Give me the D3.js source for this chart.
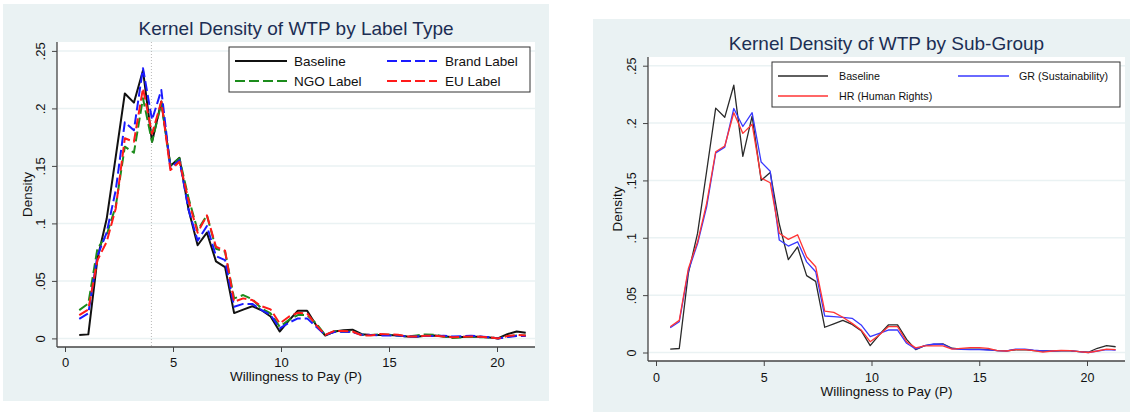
<!DOCTYPE html>
<html>
<head>
<meta charset="utf-8">
<script src="https://cdn.jsdelivr.net/npm/d3@7"></script>
<style>
  body { margin: 0; background: #fff; }
  svg { display: block; font-family: 'Liberation Sans', Arial, Helvetica, sans-serif; }
</style>
</head>
<body>
<div id="chart"></div>
<script>
// evaluation points of the kernel density (shared by all curves)
const wtpGrid = [0.66, 1.08, 1.50, 1.93, 2.35, 2.77, 3.19, 3.61, 4.03, 4.46,
  4.88, 5.30, 5.72, 6.14, 6.57, 6.99, 7.41, 7.83, 8.25, 8.67,
  9.10, 9.52, 9.94, 10.36, 10.78, 11.21, 11.63, 12.05, 12.47, 12.89,
  13.31, 13.74, 14.16, 14.58, 15.00, 15.42, 15.84, 16.27, 16.69, 17.11,
  17.53, 17.95, 18.38, 18.80, 19.22, 19.64, 20.06, 20.48, 20.91, 21.33];

const baseline = [0.003, 0.0035, 0.069, 0.104, 0.158, 0.213, 0.205, 0.233, 0.171, 0.206,
  0.150, 0.157, 0.112, 0.081, 0.092, 0.067, 0.062, 0.022, 0.025, 0.028,
  0.0245, 0.019, 0.006, 0.0155, 0.024, 0.024, 0.0115, 0.0025, 0.006, 0.007,
  0.0076, 0.0037, 0.003, 0.003, 0.003, 0.0025, 0.0016, 0.0014, 0.0024, 0.0025,
  0.0017, 0.0013, 0.0013, 0.0015, 0.0014, 0.0008, 0.0002, 0.0037, 0.006, 0.005];

const brandLabel = [0.017, 0.0217, 0.072, 0.092, 0.129, 0.188, 0.181, 0.235, 0.190, 0.216,
  0.148, 0.155, 0.112, 0.085, 0.0977, 0.0716, 0.068, 0.0275, 0.030, 0.030,
  0.0246, 0.0203, 0.0087, 0.0136, 0.0174, 0.0174, 0.0101, 0.003, 0.0055, 0.0058,
  0.0055, 0.0032, 0.003, 0.0026, 0.0026, 0.0026, 0.0017, 0.0017, 0.0023, 0.002,
  0.0023, 0.0017, 0.002, 0.0023, 0.0017, 0.001, 0.0, 0.0012, 0.002, 0.002];

const ngoLabel = [0.0246, 0.0304, 0.078, 0.090, 0.115, 0.1667, 0.1615, 0.2088, 0.171, 0.2045,
  0.1508, 0.1566, 0.122, 0.094, 0.107, 0.078, 0.0754, 0.0348, 0.0377, 0.034,
  0.026, 0.0217, 0.0101, 0.016, 0.0203, 0.0203, 0.013, 0.003, 0.006, 0.0058,
  0.0061, 0.0032, 0.003, 0.0035, 0.0032, 0.0026, 0.0017, 0.0026, 0.0035, 0.0032,
  0.0017, 0.0003, 0.0009, 0.0017, 0.0009, 0.001, 0.0, 0.0017, 0.0026, 0.0025];

const euLabel = [0.0203, 0.0252, 0.068, 0.084, 0.113, 0.174, 0.171, 0.2175, 0.178, 0.206,
  0.1464, 0.1536, 0.120, 0.0919, 0.107, 0.0797, 0.0762, 0.0319, 0.0348, 0.0333,
  0.028, 0.0252, 0.013, 0.0188, 0.0223, 0.0217, 0.0116, 0.003, 0.0065, 0.0064,
  0.006, 0.0026, 0.0026, 0.0038, 0.0035, 0.0032, 0.0017, 0.0017, 0.0023, 0.0023,
  0.0017, 0.001, 0.0014, 0.0017, 0.0014, 0.001, 0.0, 0.002, 0.003, 0.0025];

const grSustainability = [0.0216, 0.0268, 0.071, 0.095, 0.127, 0.174, 0.179, 0.2127, 0.197, 0.209,
  0.166, 0.158, 0.098, 0.0928, 0.0965, 0.079, 0.0704, 0.0318, 0.0313, 0.0307,
  0.0298, 0.024, 0.0138, 0.0167, 0.0196, 0.0196, 0.008, 0.003, 0.006, 0.0074,
  0.0072, 0.0033, 0.0027, 0.0025, 0.0025, 0.0022, 0.0016, 0.0013, 0.003, 0.003,
  0.002, 0.0013, 0.0013, 0.0016, 0.0016, 0.0007, 0.0, 0.0013, 0.0025, 0.002];

const hrHumanRights = [0.0225, 0.028, 0.073, 0.0965, 0.130, 0.175, 0.180, 0.209, 0.191, 0.199,
  0.152, 0.148, 0.104, 0.0986, 0.1026, 0.0835, 0.0748, 0.036, 0.035, 0.0307,
  0.0254, 0.0196, 0.0094, 0.0152, 0.0225, 0.0225, 0.0094, 0.004, 0.0057, 0.0057,
  0.0057, 0.003, 0.0036, 0.0042, 0.0042, 0.0036, 0.0016, 0.0013, 0.0025, 0.0025,
  0.0016, 0.0004, 0.0013, 0.0019, 0.0016, 0.0007, 0.0, 0.0013, 0.003, 0.0025];

const xTicks = [0, 5, 10, 15, 20];
const yTicks = [0, 0.05, 0.1, 0.15, 0.2, 0.25];
const yTickLabels = ['0', '.05', '.1', '.15', '.2', '.25'];

const bgColor = '#eaf2f3';
const titleColor = '#1c2e54';

const panels = [
  {
    title: 'Kernel Density of WTP by Label Type',
    bg: { x0: 3, y0: 4, x1: 549, y1: 401 },
    plot: { left: 57, top: 42, right: 535, bottom: 347 },
    x0: 65, x20: 497, y0: 338.4, y25: 50.9,
    titleY: 35, tickFont: 13, tickY: 367, xLabelY: 381, yTickX: 45, yLabelX: 32,
    refLine: 4,
    lineWidth: 2,
    series: [
      { name: 'Baseline', values: baseline, color: '#111', dash: null },
      { name: 'Brand Label', values: brandLabel, color: '#1a1aff', dash: '10,4' },
      { name: 'NGO Label', values: ngoLabel, color: '#1c8c1c', dash: '10,4' },
      { name: 'EU Label', values: euLabel, color: '#ff1a1a', dash: '10,4' }
    ],
    drawOrder: [0, 2, 1, 3],
    legend: {
      x0: 229, y0: 47, x1: 530, y1: 92, rows: [61, 81], font: 13.5,
      cols: [{ lx0: 235, lx1: 287, tx: 294 }, { lx0: 387, lx1: 437, tx: 445 }]
    }
  },
  {
    title: 'Kernel Density of WTP by Sub-Group',
    bg: { x0: 593, y0: 19, x1: 1130, y1: 412 },
    plot: { left: 648, top: 57, right: 1125, bottom: 361 },
    x0: 656, x20: 1087, y0: 352.5, y25: 65.7,
    titleY: 50, tickFont: 12.5, tickY: 382, xLabelY: 396, yTickX: 636, yLabelX: 622,
    refLine: null,
    lineWidth: 1.3,
    series: [
      { name: 'Baseline', values: baseline, color: '#2a2a2a', dash: null },
      { name: 'GR (Sustainability)', values: grSustainability, color: '#3838ff', dash: null },
      { name: 'HR (Human Rights)', values: hrHumanRights, color: '#ff3535', dash: null }
    ],
    drawOrder: [0, 1, 2],
    legend: {
      x0: 772, y0: 62, x1: 1120, y1: 107, rows: [76, 96], font: 10.7,
      cols: [{ lx0: 778, lx1: 828, tx: 839 }, { lx0: 958, lx1: 1009, tx: 1019 }]
    }
  }
];

const svg = d3.select('#chart')
  .append('svg')
  .attr('width', 1130)
  .attr('height', 412);

panels.forEach(p => drawPanel(p));

function drawPanel(p) {
  const x = d3.scaleLinear().domain([0, 20]).range([p.x0, p.x20]);
  const y = d3.scaleLinear().domain([0, 0.25]).range([p.y0, p.y25]);
  const g = svg.append('g');

  g.append('rect')
    .attr('x', p.bg.x0).attr('y', p.bg.y0)
    .attr('width', p.bg.x1 - p.bg.x0).attr('height', p.bg.y1 - p.bg.y0)
    .attr('fill', bgColor);

  g.append('rect')
    .attr('x', p.plot.left).attr('y', p.plot.top)
    .attr('width', p.plot.right - p.plot.left).attr('height', p.plot.bottom - p.plot.top)
    .attr('fill', '#fff');

  // horizontal grid
  g.selectAll('.grid')
    .data(yTicks)
    .enter().append('line')
    .attr('x1', p.plot.left + 1).attr('x2', p.plot.right)
    .attr('y1', d => y(d)).attr('y2', d => y(d))
    .attr('stroke', bgColor)
    .attr('stroke-width', 1.5);

  if (p.refLine !== null) {
    g.append('line')
      .attr('x1', x(p.refLine)).attr('x2', x(p.refLine))
      .attr('y1', p.plot.top).attr('y2', p.plot.bottom)
      .attr('stroke', '#b8b8b8')
      .attr('stroke-width', 1)
      .attr('stroke-dasharray', '1,2');
  }

  // x axis
  const xAxis = g.append('g')
    .attr('transform', 'translate(0,' + p.plot.bottom + ')')
    .call(d3.axisBottom(x).tickValues(xTicks).tickSize(5).tickPadding(4));
  xAxis.select('.domain').remove();
  xAxis.selectAll('line').attr('stroke', '#444');
  xAxis.selectAll('text')
    .attr('y', p.tickY - p.plot.bottom).attr('dy', 0)
    .attr('fill', '#111')
    .style('font-size', p.tickFont + 'px');

  // y axis
  const yAxis = g.append('g')
    .attr('transform', 'translate(' + p.plot.left + ',0)')
    .call(d3.axisLeft(y).tickValues(yTicks).tickSize(5)
      .tickFormat((d, i) => yTickLabels[i]));
  yAxis.select('.domain').remove();
  yAxis.selectAll('line').attr('stroke', '#444');
  yAxis.selectAll('text')
    .attr('x', 0).attr('dy', 0)
    .attr('transform', 'translate(' + (p.yTickX - p.plot.left) + ',0) rotate(-90)')
    .attr('text-anchor', 'middle')
    .attr('fill', '#111')
    .style('font-size', p.tickFont + 'px');

  g.append('line')
    .attr('x1', p.plot.left).attr('x2', p.plot.right)
    .attr('y1', p.plot.bottom).attr('y2', p.plot.bottom)
    .attr('stroke', '#444').attr('stroke-width', 1.3);
  g.append('line')
    .attr('x1', p.plot.left).attr('x2', p.plot.left)
    .attr('y1', p.plot.top).attr('y2', p.plot.bottom)
    .attr('stroke', '#444').attr('stroke-width', 1.3);

  // density curves
  const line = d3.line()
    .x((d, i) => x(wtpGrid[i]))
    .y(d => y(d));

  p.drawOrder.forEach(k => {
    const s = p.series[k];
    g.append('path')
      .datum(s.values)
      .attr('d', line)
      .attr('fill', 'none')
      .attr('stroke', s.color)
      .attr('stroke-width', p.lineWidth)
      .attr('stroke-linejoin', 'round')
      .attr('stroke-dasharray', s.dash);
  });

  // titles
  const mid = (p.plot.left + p.plot.right) / 2;
  g.append('text')
    .attr('x', mid).attr('y', p.titleY)
    .attr('text-anchor', 'middle')
    .attr('fill', titleColor)
    .style('font-size', '19px')
    .text(p.title);

  g.append('text')
    .attr('x', mid).attr('y', p.xLabelY)
    .attr('text-anchor', 'middle')
    .attr('fill', '#111')
    .style('font-size', '13.5px')
    .text('Willingness to Pay (P)');

  g.append('text')
    .attr('transform', 'translate(' + p.yLabelX + ',' + ((p.plot.top + p.plot.bottom) / 2) + ') rotate(-90)')
    .attr('text-anchor', 'middle')
    .attr('fill', '#111')
    .style('font-size', '13.5px')
    .text('Density');

  // legend
  const lg = p.legend;
  g.append('rect')
    .attr('x', lg.x0).attr('y', lg.y0)
    .attr('width', lg.x1 - lg.x0).attr('height', lg.y1 - lg.y0)
    .attr('fill', '#fff')
    .attr('stroke', '#333')
    .attr('stroke-width', 1);

  const items = g.selectAll('.legend-item')
    .data(p.series)
    .enter().append('g');

  items.append('line')
    .attr('x1', (d, i) => lg.cols[i % 2].lx0)
    .attr('x2', (d, i) => lg.cols[i % 2].lx1)
    .attr('y1', (d, i) => lg.rows[Math.floor(i / 2)])
    .attr('y2', (d, i) => lg.rows[Math.floor(i / 2)])
    .attr('stroke', d => d.color)
    .attr('stroke-width', p.lineWidth)
    .attr('stroke-dasharray', d => d.dash);

  items.append('text')
    .attr('x', (d, i) => lg.cols[i % 2].tx)
    .attr('y', (d, i) => lg.rows[Math.floor(i / 2)])
    .attr('dy', '0.35em')
    .attr('fill', '#111')
    .style('font-size', lg.font + 'px')
    .text(d => d.name);
}
</script>
</body>
</html>
